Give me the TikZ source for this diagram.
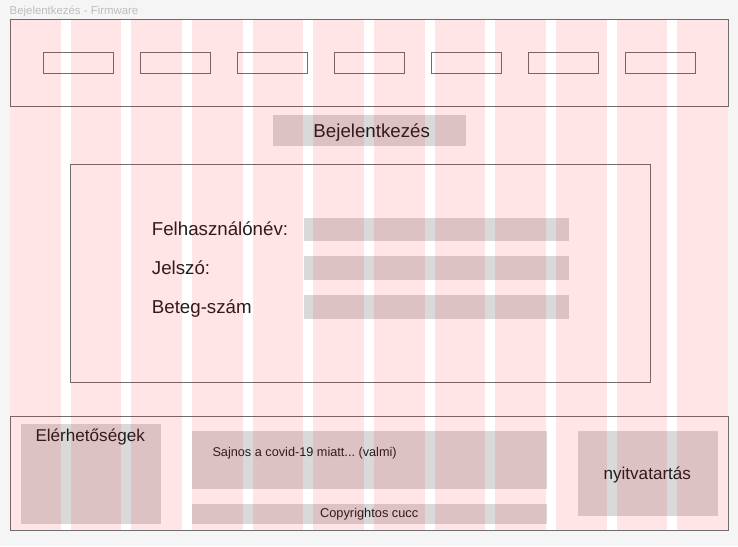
\documentclass[tikz,border=0pt]{standalone}
\usepackage{fontspec}
\setmainfont{Liberation Sans}
\definecolor{bg}{HTML}{F5F5F5}
\definecolor{boxgray}{HTML}{D9D9D9}
\definecolor{strokec}{HTML}{6E6E6E}
\definecolor{ink}{HTML}{1E1E1E}
\definecolor{titlegray}{HTML}{BDBDBD}
\begin{document}
\frenchspacing
\begin{tikzpicture}[x=1pt,y=-1pt,
  outl/.style={draw=strokec, line width=0.8pt, fill=none, inner sep=0pt, anchor=north west},
  gbox/.style={fill=boxgray, draw=none, inner sep=0pt, anchor=north west},
  lbl/.style={text=ink, inner sep=0pt},
  big/.style={lbl, font=\fontsize{18.7}{22}\selectfont},
  mid/.style={lbl, font=\fontsize{17.1}{20}\selectfont},
  small/.style={lbl, font=\fontsize{12.8}{15}\selectfont},
  gridcol/.style={fill=red, fill opacity=0.1, draw=none}]
\fill[bg] (0,0) rectangle (738,546);
\useasboundingbox (0,0) rectangle (738,546);
\fill[white] (10,19) rectangle (728,530);
% frame title
\node[text=titlegray, inner sep=0pt, anchor=base west, font=\fontsize{11.4}{13}\selectfont] (title) at (9.5,14.2) {Bejelentkezés - Firmware};
% header
\node[outl, minimum width=718pt, minimum height=87pt] (header) at (10,19) {};
\foreach \i in {0,...,6}
  \node[outl, minimum width=69.3pt, minimum height=21pt] (nav\i) at ({43.3+97*\i},52.3) {};
% login heading
\node[gbox, minimum width=193.4pt, minimum height=30.7pt] (loginbox) at (272.3,115) {};
\node[big, anchor=base] (logintxt) at (371.7,137.1) {Bejelentkezés};
% form
\node[outl, minimum width=580pt, minimum height=218pt] (form) at (70.3,164.3) {};
\node[big, anchor=base west] (user) at (151.7,235.7) {Felhasználónév:};
\node[big, anchor=base west] (pass) at (151.7,274.7) {Jelszó:};
\node[big, anchor=base west] (patient) at (151.7,313.4) {Beteg-szám};
\node[gbox, minimum width=265.7pt, minimum height=23.5pt] (userin) at (303.3,217.3) {};
\node[gbox, minimum width=265.7pt, minimum height=23.5pt] (passin) at (303.3,256.2) {};
\node[gbox, minimum width=265.7pt, minimum height=23.5pt] (patientin) at (303.3,295.2) {};
% footer
\node[outl, minimum width=718pt, minimum height=114pt] (footer) at (10,416) {};
\node[gbox, minimum width=140pt, minimum height=99.3pt] (contactbox) at (20.7,424) {};
\node[mid, anchor=base] (contact) at (90.2,441.7) {Elérhetőségek};
\node[gbox, minimum width=355pt, minimum height=57.3pt] (covidbox) at (191.7,431) {};
\node[small, anchor=base west, font=\fontsize{12.7}{15}\selectfont] (covid) at (212.3,456) {Sajnos a covid-19 miatt... (valmi)};
\node[gbox, minimum width=355pt, minimum height=20pt] (copybox) at (191.7,503.3) {};
\node[small, anchor=base] (copy) at (369.2,517.8) {Copyrightos cucc};
\node[gbox, minimum width=140pt, minimum height=85pt] (openbox) at (577.3,431) {};
\node[mid, anchor=base] (open) at (647.3,479.5) {nyitvatartás};
% layout grid overlay
\foreach \k in {0,...,11}
  \fill[gridcol] ({10+60.6667*\k},19) rectangle ({60.6667+60.6667*\k},530);
\end{tikzpicture}
\end{document}
